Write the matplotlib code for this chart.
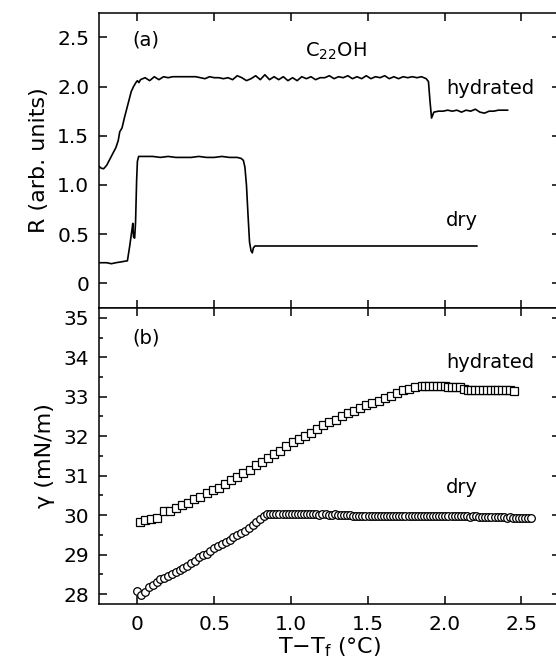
import matplotlib
matplotlib.use('Agg')
import matplotlib.pyplot as plt
from matplotlib.ticker import MultipleLocator, FuncFormatter

plt.rcParams['font.family'] = 'DejaVu Sans'
plt.rcParams['mathtext.default'] = 'regular'

# ---- panel (a): reflectivity traces ----
hyd_a_x = [-0.25, -0.235, -0.22, -0.20, -0.18, -0.16, -0.14, -0.125, -0.115, -0.10, -0.085,
           -0.07, -0.055, -0.04, -0.025, -0.01, 0.0, 0.01,
           0.02, 0.05, 0.08, 0.11, 0.14, 0.17, 0.20, 0.23, 0.26, 0.29, 0.32, 0.35, 0.38,
           0.41, 0.44, 0.47, 0.50, 0.53, 0.56, 0.59, 0.62, 0.65, 0.68, 0.71, 0.74, 0.77,
           0.80, 0.83, 0.86, 0.89, 0.92, 0.95, 0.98, 1.01, 1.04, 1.07, 1.10, 1.13, 1.16,
           1.19, 1.22, 1.25, 1.28, 1.31, 1.34, 1.37, 1.40, 1.43, 1.46, 1.49, 1.52, 1.55,
           1.58, 1.61, 1.64, 1.67, 1.70, 1.73, 1.76, 1.79, 1.82, 1.85, 1.88, 1.895, 1.905,
           1.915, 1.93, 1.96, 1.99, 2.02, 2.05, 2.08, 2.11, 2.14, 2.17, 2.20, 2.23, 2.26,
           2.29, 2.32, 2.35, 2.38, 2.41]
hyd_a_y = [1.19, 1.17, 1.165, 1.20, 1.26, 1.32, 1.38, 1.45, 1.54, 1.58, 1.68,
           1.77, 1.86, 1.95, 2.00, 2.04, 2.06, 2.04,
           2.07, 2.09, 2.06, 2.10, 2.07, 2.10, 2.09, 2.10, 2.10, 2.10, 2.10, 2.10, 2.10,
           2.09, 2.08, 2.10, 2.09, 2.09, 2.08, 2.09, 2.07, 2.11, 2.09, 2.06, 2.08, 2.11,
           2.07, 2.12, 2.07, 2.10, 2.07, 2.10, 2.06, 2.09, 2.06, 2.10, 2.08, 2.10, 2.07,
           2.09, 2.09, 2.11, 2.08, 2.10, 2.09, 2.11, 2.08, 2.10, 2.08, 2.11, 2.08, 2.10,
           2.09, 2.11, 2.08, 2.10, 2.08, 2.10, 2.09, 2.10, 2.09, 2.10, 2.08, 2.05, 1.85,
           1.68, 1.74, 1.75, 1.75, 1.76, 1.75, 1.76, 1.74, 1.76, 1.75, 1.77, 1.74, 1.73,
           1.75, 1.75, 1.76, 1.76, 1.76]

dry_a_x = [-0.25, -0.20, -0.17, -0.14, -0.10, -0.065, -0.05, -0.035, -0.03, -0.025, -0.018,
           -0.012, -0.005, 0.0, 0.008, 0.05, 0.10, 0.15, 0.20, 0.25, 0.30, 0.35, 0.40, 0.45,
           0.50, 0.55, 0.60, 0.65, 0.675, 0.69, 0.70, 0.71, 0.72, 0.73, 0.74, 0.748, 0.755,
           0.765, 0.80, 1.00, 1.20, 1.40, 1.60, 1.80, 2.00, 2.21]
dry_a_y = [0.21, 0.21, 0.20, 0.21, 0.22, 0.23, 0.38, 0.55, 0.61, 0.47, 0.46,
           0.62, 1.05, 1.24, 1.29, 1.29, 1.29, 1.28, 1.29, 1.28, 1.28, 1.28, 1.29, 1.28,
           1.28, 1.29, 1.28, 1.28, 1.27, 1.25, 1.18, 1.00, 0.70, 0.42, 0.33, 0.31, 0.36,
           0.38, 0.38, 0.38, 0.38, 0.38, 0.38, 0.38, 0.38, 0.38]

# ---- panel (b): surface tension ----
hyd_b_x = [0.015, 0.05, 0.09, 0.13, 0.17, 0.21, 0.25, 0.29, 0.33, 0.37, 0.41, 0.45, 0.49,
           0.53, 0.57, 0.61, 0.65, 0.69, 0.73, 0.77, 0.81, 0.85, 0.89, 0.93, 0.97, 1.01,
           1.05, 1.09, 1.13, 1.17, 1.21, 1.25, 1.29, 1.33, 1.37, 1.41, 1.45, 1.49, 1.53,
           1.57, 1.61, 1.65, 1.69, 1.73, 1.77, 1.81, 1.85, 1.875, 1.90, 1.925, 1.95, 1.975,
           2.00, 2.025, 2.05, 2.075, 2.10, 2.125, 2.15, 2.175, 2.20, 2.225, 2.25, 2.275,
           2.30, 2.325, 2.35, 2.375, 2.40, 2.425, 2.45]
hyd_b_y = [29.83, 29.88, 29.91, 29.93, 30.10, 30.10, 30.18, 30.25, 30.32, 30.40,
           30.47, 30.55, 30.63, 30.70, 30.78, 30.88, 30.98, 31.08, 31.15, 31.27,
           31.35, 31.45, 31.55, 31.63, 31.76, 31.85, 31.93, 32.00, 32.08, 32.18,
           32.28, 32.35, 32.42, 32.50, 32.58, 32.65, 32.72, 32.78, 32.85, 32.90,
           32.97, 33.03, 33.10, 33.16, 33.20, 33.24, 33.26, 33.27, 33.27, 33.27,
           33.26, 33.26, 33.26, 33.25, 33.25, 33.25, 33.25, 33.20, 33.18, 33.18,
           33.18, 33.18, 33.17, 33.17, 33.17, 33.17, 33.16, 33.16, 33.16, 33.16,
           33.15]

dry_b_x = [-0.005, 0.025, 0.05, 0.075, 0.10, 0.125, 0.15, 0.175, 0.20, 0.225, 0.25, 0.275,
           0.30, 0.325, 0.35, 0.375, 0.40, 0.425, 0.45, 0.475, 0.50, 0.525, 0.55, 0.575,
           0.60, 0.625, 0.65, 0.675, 0.70, 0.725, 0.75, 0.775, 0.80, 0.825, 0.845,
           0.865, 0.885, 0.905, 0.925, 0.945, 0.965, 0.985, 1.005, 1.025, 1.045,
           1.065, 1.085, 1.105, 1.125, 1.145, 1.165, 1.185, 1.205, 1.225, 1.245,
           1.265, 1.285, 1.305, 1.325, 1.345, 1.365, 1.385, 1.405, 1.425, 1.445,
           1.465, 1.485, 1.505, 1.525, 1.545, 1.565, 1.585, 1.605, 1.625, 1.645,
           1.665, 1.685, 1.705, 1.725, 1.745, 1.765, 1.785, 1.805, 1.825, 1.845,
           1.865, 1.885, 1.905, 1.925, 1.945, 1.965, 1.985, 2.005, 2.025, 2.045,
           2.065, 2.085, 2.105, 2.125, 2.145, 2.165, 2.185, 2.205, 2.225, 2.245,
           2.265, 2.285, 2.305, 2.325, 2.345, 2.365, 2.385, 2.405, 2.425, 2.445,
           2.465, 2.485, 2.505, 2.525, 2.545, 2.565]
dry_b_y = [28.08, 27.99, 28.05, 28.17, 28.22, 28.32, 28.38, 28.42, 28.46, 28.51, 28.57, 28.62,
           28.67, 28.72, 28.78, 28.85, 28.93, 28.98, 29.02, 29.10, 29.16, 29.22, 29.27, 29.33,
           29.38, 29.44, 29.50, 29.55, 29.61, 29.68, 29.75, 29.82, 29.90, 29.98, 30.03,
           30.04, 30.03, 30.03, 30.04, 30.03, 30.03, 30.02, 30.03, 30.03, 30.02,
           30.03, 30.02, 30.02, 30.03, 30.02, 30.02, 30.01, 30.02, 30.02, 30.01,
           30.01, 30.02, 30.01, 30.01, 30.00, 30.01, 30.00, 29.99, 29.99, 29.98,
           29.99, 29.99, 29.98, 29.99, 29.99, 29.99, 29.98, 29.99, 29.99, 29.99,
           29.99, 29.98, 29.99, 29.99, 29.98, 29.99, 29.99, 29.99, 29.98, 29.99,
           29.98, 29.99, 29.98, 29.98, 29.98, 29.98, 29.97, 29.98, 29.98, 29.97,
           29.97, 29.98, 29.97, 29.97, 29.97, 29.96, 29.97, 29.97, 29.96, 29.96,
           29.96, 29.96, 29.95, 29.96, 29.95, 29.95, 29.95, 29.94, 29.95, 29.94,
           29.94, 29.94, 29.93, 29.93, 29.92, 29.93]


def fmt(v, pos):
    return '0' if abs(v) < 1e-9 else f'{v:.1f}'


def style(ax):
    ax.tick_params(which='both', direction='in', top=True, right=True, width=1.1)
    ax.tick_params(which='major', length=5.5)
    ax.tick_params(which='minor', length=3)
    ax.tick_params(axis='x', labelsize=14.5, pad=8)
    ax.tick_params(axis='y', labelsize=14.5, pad=7)
    for s in ax.spines.values():
        s.set_linewidth(1.1)
    ax.xaxis.set_major_locator(MultipleLocator(0.5))
    ax.xaxis.set_major_formatter(FuncFormatter(fmt))
    ax.set_xlim(-0.25, 2.75)


fig = plt.figure(figsize=(5.56, 6.71), dpi=100)
left = 99 / 556
width = (559.8 - 99) / 556
ax1 = fig.add_axes([left, 0.541, width, 0.440])
ax2 = fig.add_axes([left, 0.0998, width, 0.4413])

# panel (a)
ax1.plot(hyd_a_x, hyd_a_y, color='black', lw=1.2)
ax1.plot(dry_a_x, dry_a_y, color='black', lw=1.2)
style(ax1)
ax1.set_ylim(-0.25, 2.75)
ax1.yaxis.set_major_locator(MultipleLocator(0.5))
ax1.yaxis.set_major_formatter(FuncFormatter(fmt))
ax1.tick_params(labelbottom=False)
ax1.set_ylabel('R (arb. units)', fontsize=16, labelpad=6)
ax1.text(-0.03, 2.42, '(a)', fontsize=14, va='baseline', ha='left')
ax1.text(1.09, 2.305, 'C$_{22}$OH', fontsize=14, va='baseline', ha='left')
ax1.text(2.01, 1.92, 'hydrated', fontsize=14, va='baseline', ha='left')
ax1.text(2.01, 0.58, 'dry', fontsize=14, va='baseline', ha='left')

# panel (b)
ax2.plot(hyd_b_x, hyd_b_y, ls='none', marker='s', ms=6, mfc='white', mec='black', mew=0.9)
ax2.plot(dry_b_x, dry_b_y, ls='none', marker='o', ms=5.5, mfc='white', mec='black', mew=0.9)
style(ax2)
ax2.set_ylim(27.75, 35.25)
ax2.yaxis.set_major_locator(MultipleLocator(1))
ax2.yaxis.set_minor_locator(MultipleLocator(0.5))
ax2.set_ylabel('γ (mN/m)', fontsize=16, labelpad=6)
ax2.set_xlabel(r'T$-$T$_{f}$ (°C)', fontsize=16, labelpad=1)
ax2.text(-0.03, 34.35, '(b)', fontsize=14, va='baseline', ha='left')
ax2.text(2.01, 33.73, 'hydrated', fontsize=14, va='baseline', ha='left')
ax2.text(2.01, 30.57, 'dry', fontsize=14, va='baseline', ha='left')

fig.savefig('out.png', dpi=100)
